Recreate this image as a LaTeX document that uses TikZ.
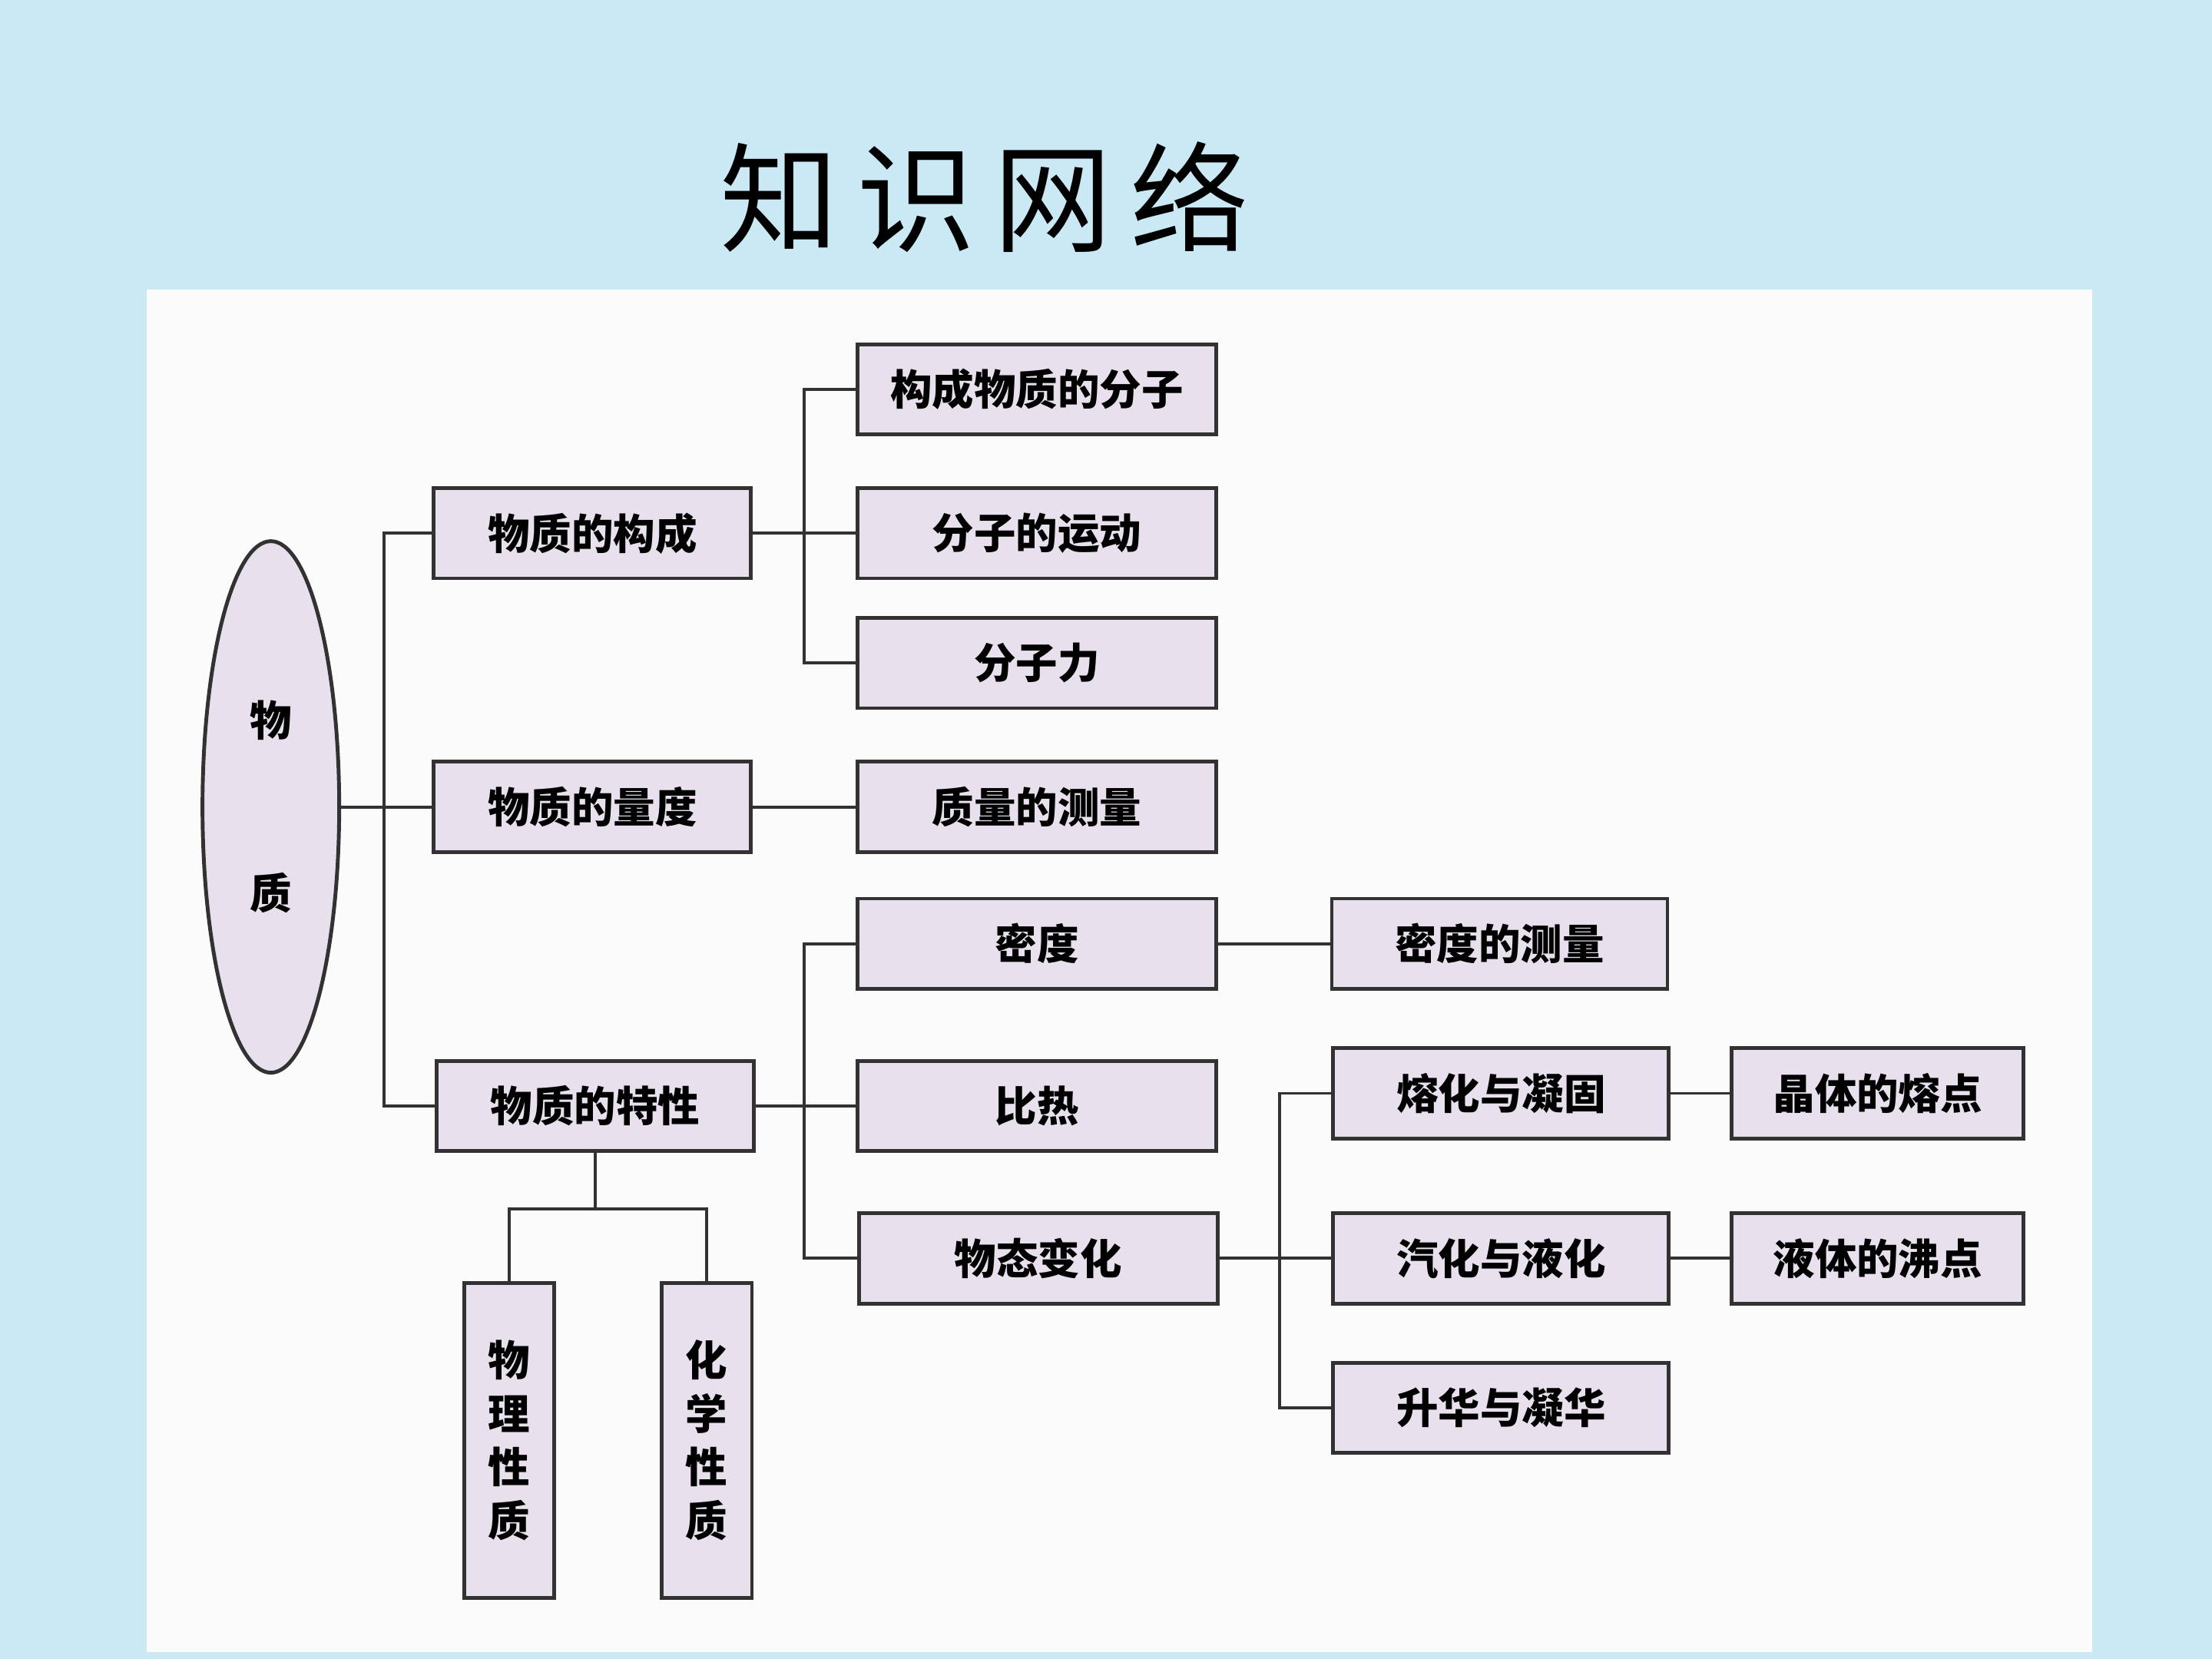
\documentclass[tikz,border=0pt]{standalone}
\usepackage{fontspec}
\newfontfamily\cjk{Noto Sans CJK SC}
\newfontfamily\titlefont{Noto Sans CJK SC}[LetterSpace=15]
\usepackage{tikz}
\usetikzlibrary{shapes.geometric}

\definecolor{slidebg}{RGB}{203,233,245}
\definecolor{boxfill}{RGB}{232,224,237}
\definecolor{linegray}{RGB}{50,50,50}

\tikzset{
  box/.style={draw=linegray, line width=1.4pt, fill=boxfill, minimum height=11.75mm,
              inner sep=0pt, font=\cjk\bfseries\fontsize{15.5}{18}\selectfont},
  colA/.style={box, minimum width=41.3mm},
  colB/.style={box, minimum width=46.65mm},
  colC/.style={box, minimum width=43.7mm},
  colD/.style={box, minimum width=38mm},
  tallbox/.style={box, minimum width=11.75mm, minimum height=40.96mm, align=center,
                  font=\cjk\bfseries\fontsize{15.5}{19.8}\selectfont},
  link/.style={draw=linegray, line width=1.1pt}
}

\begin{document}
\begin{tikzpicture}[x=0.18367mm,y=-0.18367mm]
  \fill[slidebg] (0,0) rectangle (1568,1176);
  \useasboundingbox (0,0) rectangle (1568,1176);
  \fill[white!97!gray] (104,205) rectangle (1483,1171);

  \node[font=\titlefont\fontsize{44}{50}\selectfont] (title) at (698,140) {知识网络};

  % root
  \node[draw=linegray, line width=1.4pt, fill=boxfill, ellipse, minimum width=17.8mm,
        minimum height=69.2mm, inner sep=0pt, align=center,
        font=\cjk\bfseries\fontsize{15.5}{18}\selectfont] (wz) at (192,572) {物\\[46pt]质};

  % first level
  \node[colA] (gc) at (420,378) {物质的构成};
  \node[colA] (ld) at (420,572) {物质的量度};
  \node[colA] (tx) at (422,784) {物质的特性};

  % second level
  \node[colB] (fz)  at (735,276) {构成物质的分子};
  \node[colB] (yd)  at (735,378) {分子的运动};
  \node[colB] (fzl) at (735,470) {分子力};
  \node[colB] (zl)  at (735,572) {质量的测量};
  \node[colB] (md)  at (735,669) {密度};
  \node[colB] (br)  at (735,784) {比热};
  \node[colB] (wt)  at (736,892) {物态变化};

  % third level
  \node[colC] (mdc) at (1063,669) {密度的测量};
  \node[colC] (rh)  at (1064,775) {熔化与凝固};
  \node[colC] (qh)  at (1064,892) {汽化与液化};
  \node[colC] (sh)  at (1064,998) {升华与凝华};

  \node[colD] (jt) at (1331,775) {晶体的熔点};
  \node[colD] (yt) at (1331,892) {液体的沸点};

  \node[tallbox] (wl) at (361,1021) {物\\理\\性\\质};
  \node[tallbox] (hx) at (501,1021) {化\\学\\性\\质};

  % junctions
  \coordinate (t1) at (272,572);
  \coordinate (t2) at (570,378);
  \coordinate (t3) at (570,784);
  \coordinate (t4) at (907,892);
  \coordinate (t5) at (422,857);

  \draw[link] (wz.east) -- (ld.west);
  \draw[link] (gc.west) -| (t1);
  \draw[link] (tx.west) -| (t1);

  \draw[link] (gc.east) -- (yd.west);
  \draw[link] (fz.west) -| (t2);
  \draw[link] (fzl.west) -| (t2);

  \draw[link] (ld.east) -- (zl.west);

  \draw[link] (tx.east) -- (br.west);
  \draw[link] (md.west) -| (t3);
  \draw[link] (wt.west) -| (t3);
  \draw[link] (md.east) -- (mdc.west);

  \draw[link] (wt.east) -- (qh.west);
  \draw[link] (rh.west) -| (t4);
  \draw[link] (sh.west) -| (t4);
  \draw[link] (rh.east) -- (jt.west);
  \draw[link] (qh.east) -- (yt.west);

  \draw[link] (tx.south) -- (t5);
  \draw[link] (wl.north) |- (t5);
  \draw[link] (hx.north) |- (t5);
\end{tikzpicture}
\end{document}
